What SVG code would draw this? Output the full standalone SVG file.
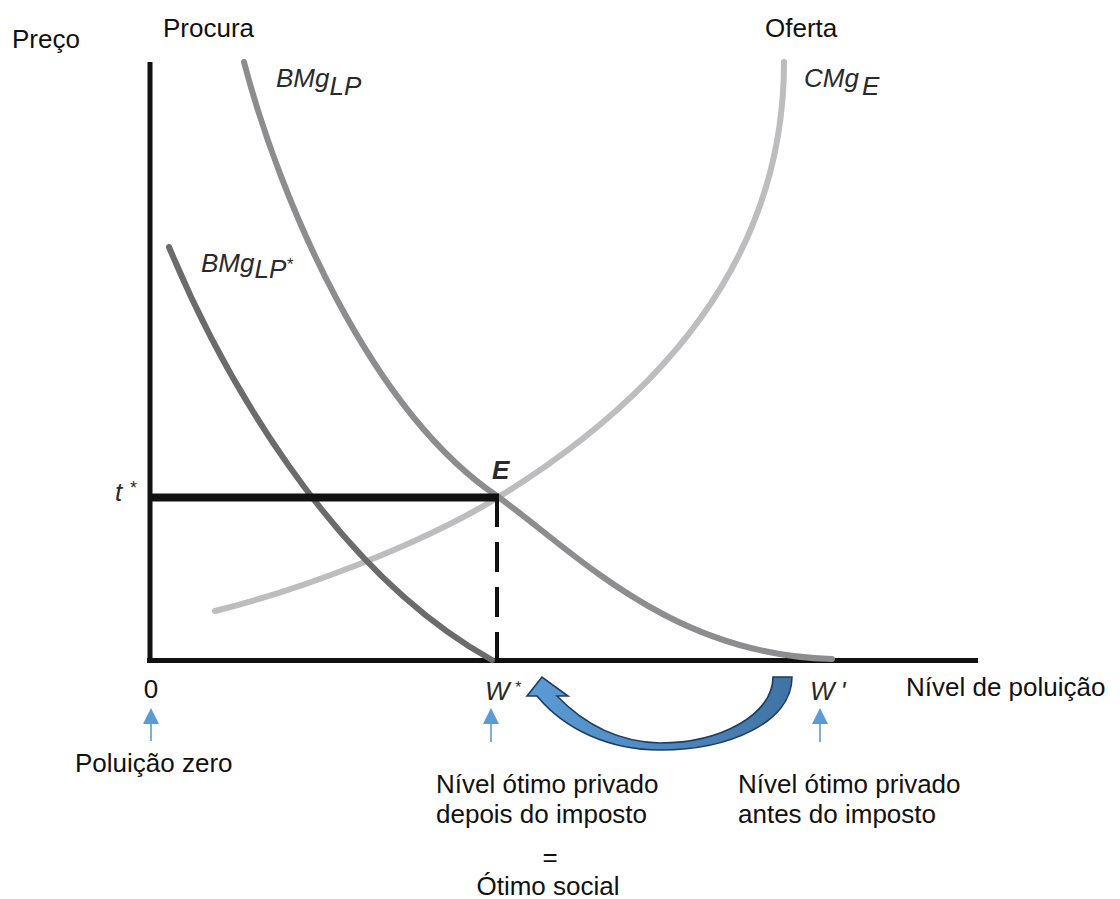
<svg xmlns="http://www.w3.org/2000/svg" width="1120" height="899" viewBox="0 0 1120 899">
<style>
.t{font-family:"Liberation Sans",Arial,sans-serif;font-size:26px;fill:#111}
.i{font-family:"Liberation Sans",Arial,sans-serif;font-style:italic;font-size:26px;fill:#2a2a2a}
.curve{fill:none;stroke-width:6;stroke-linecap:round}
.axis{stroke:#111;stroke-width:5;fill:none}
.tick{stroke:#5b9bd5;stroke-width:1.6;fill:none}
</style>
<defs>
<marker id="bh" viewBox="0 0 16 16" refX="14" refY="8" markerWidth="16" markerHeight="16" markerUnits="userSpaceOnUse" orient="auto">
<path d="M0,0 L16,8 L0,16 Z" fill="#5b9bd5"/>
</marker>
<linearGradient id="bg" x1="527" y1="0" x2="792" y2="0" gradientUnits="userSpaceOnUse">
<stop offset="0" stop-color="#5b9bd5"/>
<stop offset="0.5" stop-color="#4f89c0"/>
<stop offset="1" stop-color="#3f73a3"/>
</linearGradient>
</defs>
<g id="axes">
<line class="axis" x1="150" y1="62" x2="150" y2="661"/>
<line class="axis" x1="147" y1="660.5" x2="978" y2="660.5"/>
</g>
<g id="curves">
<path id="cmge" class="curve" stroke="#bdbdbf" d="M215,611 C300,590 420,545 497,498 C600,435 784,300 784,62"/>
<path id="bmglp" class="curve" stroke="#8d8d8f" d="M244,62 C280,200 370,410 497,496 C575,552 670,655 832,659"/>
<path id="bmglpstar" class="curve" stroke="#6b6b6c" d="M169,247 C220,370 330,570 492,660"/>
</g>
<g id="tax">
<line x1="150" y1="497.5" x2="499" y2="497.5" stroke="#111" stroke-width="8"/>
<line x1="497" y1="497" x2="497" y2="660" stroke="#111" stroke-width="4" stroke-dasharray="30,15"/>
</g>
<g id="labels">
<text class="t" x="12" y="48">Preço</text>
<text class="t" x="163" y="37">Procura</text>
<text class="t" x="765" y="37">Oferta</text>
<text class="i" x="276" y="87">BMg<tspan dy="8">LP</tspan></text>
<text class="i" x="804" y="87">CMg<tspan dx="3" dy="8">E</tspan></text>
<text class="i" x="201" y="272">BMg<tspan dy="6">LP</tspan><tspan font-size="17" dy="-8">*</tspan></text>
<text class="i" x="115" y="501">t<tspan font-size="18" dx="7" dy="-7">*</tspan></text>
<text class="i" x="492" y="479" font-weight="bold" fill="#111">E</text>
<text class="t" x="151" y="698" text-anchor="middle">0</text>
<text class="i" x="485" y="700">W<tspan font-size="16" dx="5" dy="-7">*</tspan></text>
<text class="i" x="810" y="700">W<tspan dx="6">'</tspan></text>
<text class="t" x="906" y="696" fill="#333" font-size="27">Nível de poluição</text>
<text class="t" x="75" y="772">Poluição zero</text>
<text class="t" x="436" y="793">Nível ótimo privado</text>
<text class="t" x="436" y="823">depois do imposto</text>
<text class="t" x="550" y="866" text-anchor="middle">=</text>
<text class="t" x="548" y="895" text-anchor="middle">Ótimo social</text>
<text class="t" x="738" y="793">Nível ótimo privado</text>
<text class="t" x="738" y="823">antes do imposto</text>
</g>
<g id="connectors">
<line class="tick" x1="151" y1="741" x2="151" y2="710" marker-end="url(#bh)"/>
<line class="tick" x1="491" y1="742" x2="491" y2="710" marker-end="url(#bh)"/>
<line class="tick" x1="820" y1="742" x2="820" y2="710" marker-end="url(#bh)"/>
<path id="bigarrow" d="M792,677 C792,722 730,750 660,750 C610,750 565,730 537,696 L527,696 L542,677 L568,696 L557,696 C585,725 620,742 660,743 C720,743 773,715 773,677 Z" fill="url(#bg)" stroke="#1f3c5e" stroke-width="1.6" stroke-linejoin="miter"/>
</g>
</svg>
